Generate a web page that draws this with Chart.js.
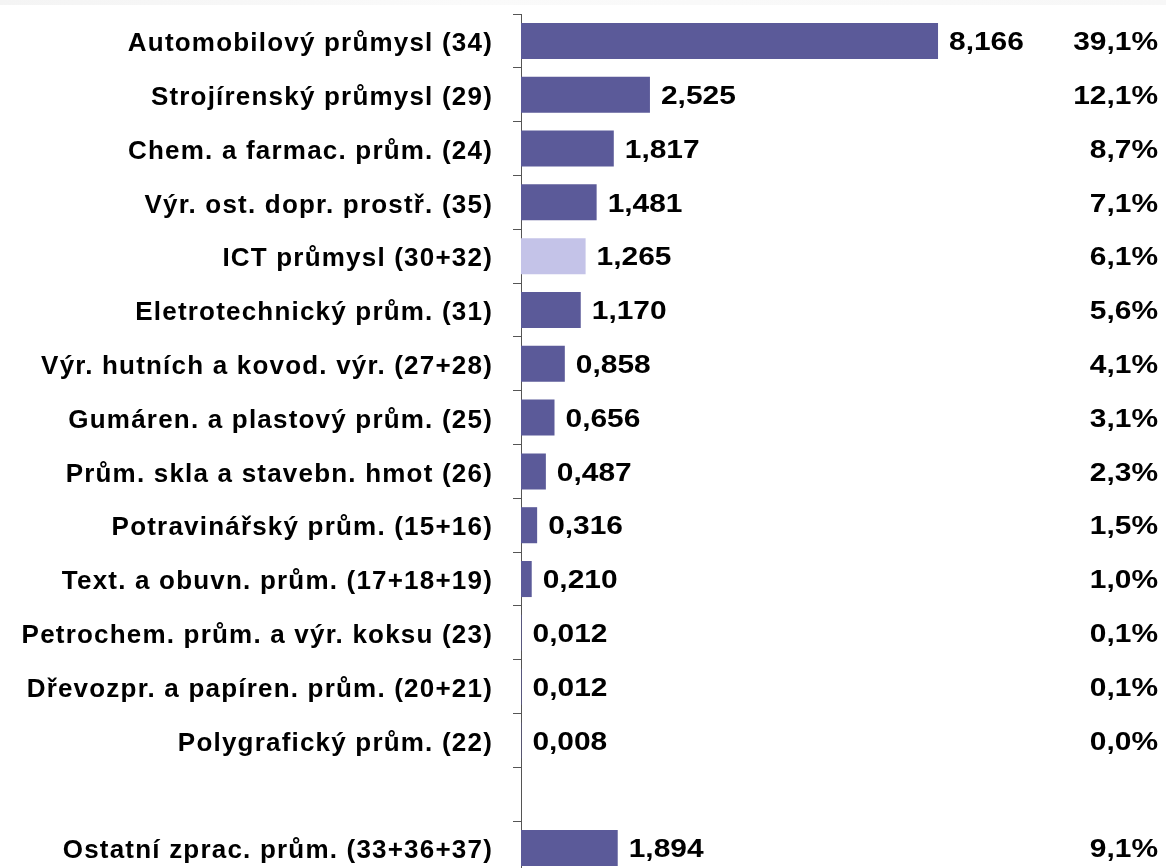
<!DOCTYPE html>
<html>
<head>
<meta charset="utf-8">
<script src="https://cdn.jsdelivr.net/npm/chart.js@4"></script>
<style>
  html, body { margin: 0; padding: 0; background: #fff; overflow: hidden; }
  #strip { position: absolute; left: 0; top: 0; width: 1166px; height: 5px;
           background: linear-gradient(to right, #f4f4f4, #fafafa 40%, #f7f7f7); z-index: 2; }
  #wrap { position: relative; width: 1166px; height: 880px; }
</style>
</head>
<body>
<div id="strip"></div>
<div id="wrap"><canvas id="myChart"></canvas></div>
<script>
const categories = [
    'Automobilový průmysl (34)',
    'Strojírenský průmysl (29)',
    'Chem. a farmac. prům. (24)',
    'Výr. ost. dopr. prostř. (35)',
    'ICT průmysl (30+32)',
    'Eletrotechnický prům. (31)',
    'Výr. hutních a kovod. výr. (27+28)',
    'Gumáren. a plastový prům. (25)',
    'Prům. skla a stavebn. hmot (26)',
    'Potravinářský prům. (15+16)',
    'Text. a obuvn. prům. (17+18+19)',
    'Petrochem. prům. a výr. koksu (23)',
    'Dřevozpr. a papíren. prům. (20+21)',
    'Polygrafický prům. (22)',
    '',
    'Ostatní zprac. prům. (33+36+37)'
];
const values = [8.166, 2.525, 1.817, 1.481, 1.265, 1.170, 0.858, 0.656, 0.487, 0.316, 0.210, 0.012, 0.012, 0.008, null, 1.894];
const shares = [39.1, 12.1, 8.7, 7.1, 6.1, 5.6, 4.1, 3.1, 2.3, 1.5, 1.0, 0.1, 0.1, 0.0, null, 9.1];
const highlightIndex = 4;

const barColor = '#5b5a99';
const highlightColor = '#c4c3e8';
const labelFont = 'bold 26px "Liberation Sans", Arial, sans-serif';

function fmt(v, digits) {
    return v.toFixed(digits).replace('.', ',');
}

// the original labels are spaced out a bit wider than plain Arial
const letterSpacing = {
    id: 'letterSpacing',
    beforeLayout(chart) { chart.ctx.letterSpacing = '1.2px'; },
    beforeDraw(chart) { chart.ctx.letterSpacing = '1.2px'; }
};

// draws the value next to each bar and the share column at the right
const valueLabels = {
    id: 'valueLabels',
    afterDatasetsDraw(chart) {
        const ctx = chart.ctx;
        const meta = chart.getDatasetMeta(0);
        const yScale = chart.scales.y;
        ctx.save();
        ctx.letterSpacing = '0px';
        ctx.fillStyle = '#000';
        ctx.font = labelFont;
        ctx.textBaseline = 'middle';
        meta.data.forEach((bar, i) => {
            if (values[i] === null) return;
            const y = yScale.getPixelForValue(i) + 2;
            ctx.save();
            ctx.translate(bar.x + 11, y);
            ctx.scale(1.15, 1);
            ctx.textAlign = 'left';
            ctx.fillText(fmt(values[i], 3), 0, 0);
            ctx.restore();

            ctx.save();
            ctx.translate(1158, y);
            ctx.scale(1.15, 1);
            ctx.textAlign = 'right';
            ctx.fillText(fmt(shares[i], 1) + '%', 0, 0);
            ctx.restore();
        });
        ctx.restore();
    }
};

const ctx = document.getElementById('myChart').getContext('2d');
new Chart(ctx, {
    type: 'bar',
    data: {
        labels: categories,
        datasets: [{
            data: values,
            backgroundColor: values.map((v, i) => i === highlightIndex ? highlightColor : barColor),
            borderWidth: 0,
            categoryPercentage: 1,
            barPercentage: 0.67
        }]
    },
    options: {
        indexAxis: 'y',
        responsive: true,
        maintainAspectRatio: false,
        animation: false,
        layout: { padding: { top: 14, bottom: 5, left: 0, right: 0 } },
        scales: {
            x: {
                display: false,
                min: 0,
                max: 12.63
            },
            y: {
                afterFit: (scale) => {
                    scale.width = 521;
                    scale.paddingTop = 0;
                    scale.paddingBottom = 0;
                },
                grid: {
                    offset: true,
                    drawOnChartArea: false,
                    drawTicks: true,
                    tickLength: 8,
                    color: '#555'
                },
                border: { display: true, color: '#555', width: 1 },
                ticks: {
                    color: '#000',
                    padding: 20,
                    labelOffset: 3,
                    autoSkip: false,
                    font: { family: '"Liberation Sans", Arial, sans-serif', size: 26, weight: 'bold' }
                }
            }
        },
        plugins: {
            legend: { display: false },
            tooltip: { enabled: false }
        }
    },
    plugins: [letterSpacing, valueLabels]
});
</script>
</body>
</html>
